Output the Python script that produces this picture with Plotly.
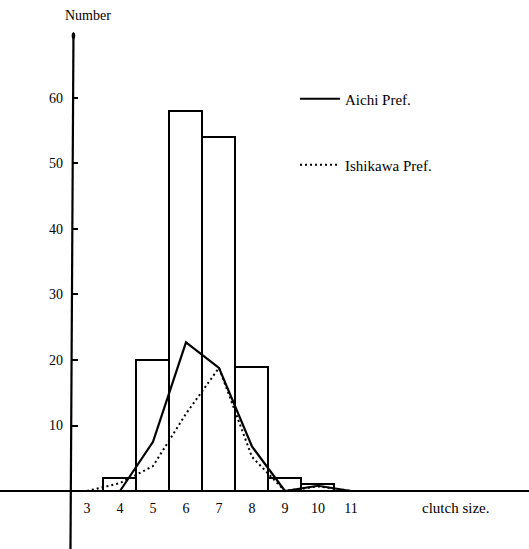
import plotly.graph_objects as go

# Clutch-size frequency distribution
clutch = [4, 5, 6, 7, 8, 9, 10]
counts = [2, 20, 58, 54, 19, 2, 1]

# Prefecture curves
aichi_x = [4, 5, 6, 7, 8, 9, 10, 11]
aichi_y = [0, 7.5, 22.7, 18.8, 6.8, 0, 0.8, 0]
ishikawa_x = [3, 4, 5, 6, 7, 8, 9, 10, 11]
ishikawa_y = [0, 1.2, 3.8, 11.8, 18.8, 5.2, 0, 0.7, 0]

x_ticks = [3, 4, 5, 6, 7, 8, 9, 10, 11]
y_ticks = [10, 20, 30, 40, 50, 60]

W, H = 529, 549
X_RANGE = [0.364, 16.394]
Y_RANGE = [-8.855, 74.96]
SERIF = "Liberation Serif, Times New Roman, serif"

fig = go.Figure()

fig.add_trace(go.Bar(
    x=clutch, y=counts, width=1,
    marker=dict(color="white", line=dict(color="black", width=2)),
    showlegend=False, hoverinfo="skip",
))

fig.add_trace(go.Scatter(
    x=aichi_x, y=aichi_y, mode="lines", name="Aichi Pref.",
    line=dict(color="black", width=2.2), legend="legend",
))

fig.add_trace(go.Scatter(
    x=ishikawa_x, y=ishikawa_y, mode="lines", name="Ishikawa Pref.",
    line=dict(color="black", width=2, dash="2px,3px"), legend="legend2",
))

# vertical axis line with a small dot at its top
fig.add_shape(type="line", x0=2.5, y0=Y_RANGE[0], x1=2.59, y1=69.5,
              xref="x", yref="y", line=dict(color="black", width=2.2))
fig.add_shape(type="circle", x0=2.55, y0=69.0, x1=2.63, y1=70.0,
              xref="x", yref="y", fillcolor="black", line=dict(color="black", width=1))

legend_common = dict(
    xanchor="left", yanchor="middle", bgcolor="rgba(0,0,0,0)",
    font=dict(family=SERIF, size=15, color="black"), itemwidth=40,
)

fig.update_layout(
    width=W, height=H,
    margin=dict(l=0, r=0, t=0, b=0),
    paper_bgcolor="white", plot_bgcolor="white",
    bargap=0,
    xaxis=dict(
        range=X_RANGE, showgrid=False, zeroline=False,
        showline=True, linecolor="black", linewidth=2,
        anchor="free", position=(H - 491) / H,
        tickvals=x_ticks, ticks="outside", ticklen=4,
        tickcolor="rgba(0,0,0,0)",
        tickfont=dict(family=SERIF, size=14, color="black"),
    ),
    yaxis=dict(
        range=Y_RANGE, showgrid=False, zeroline=False, showline=False,
        anchor="free", position=71 / W,
        tickvals=y_ticks, ticks="inside", ticklen=6, tickwidth=2,
        tickcolor="black", ticklabelstandoff=8,
        tickfont=dict(family=SERIF, size=14, color="black"),
    ),
    legend=dict(x=295 / W, y=1 - 99 / H, **legend_common),
    legend2=dict(x=295 / W, y=1 - 165 / H, **legend_common),
    annotations=[
        dict(text="Number", x=88 / W, y=1 - 16 / H, xref="paper", yref="paper",
             xanchor="center", yanchor="middle",
             showarrow=False, font=dict(family=SERIF, size=14, color="black")),
        dict(text="clutch size.", x=455 / W, y=1 - 508 / H, xref="paper", yref="paper",
             xanchor="center", yanchor="middle",
             showarrow=False, font=dict(family=SERIF, size=15, color="black")),
    ],
)

fig.write_html("out.html")
